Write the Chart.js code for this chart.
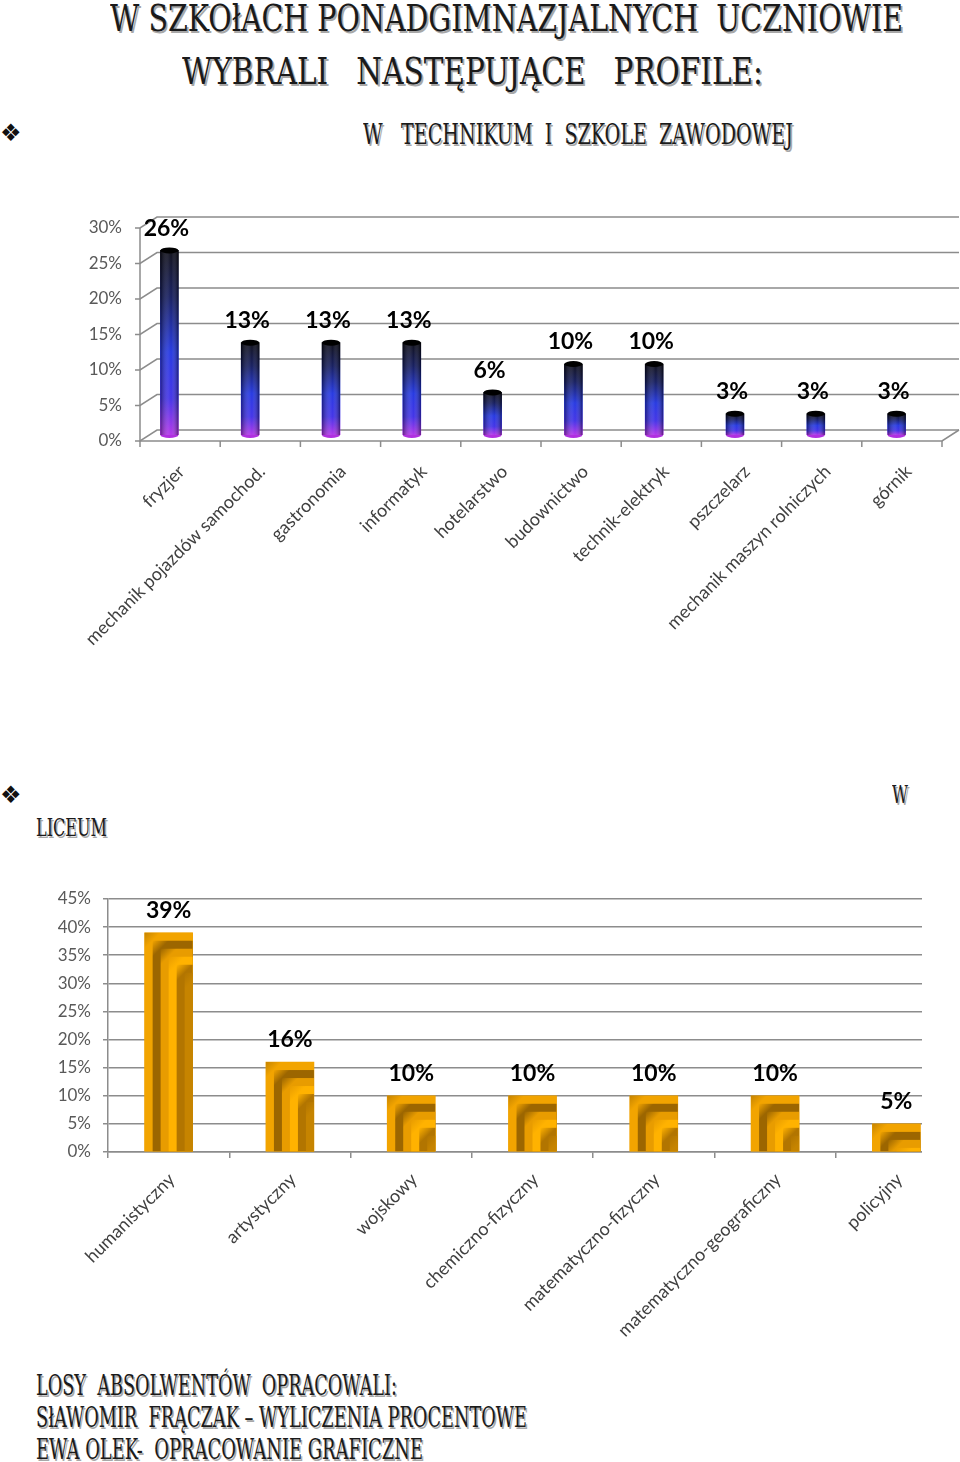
<!DOCTYPE html>
<html>
<head>
<meta charset="utf-8">
<script src="https://cdn.jsdelivr.net/npm/chart.js@4.4.0/dist/chart.umd.min.js"></script>
<style>
    body { margin: 0; width: 960px; height: 1462px; background: #fff; position: relative; overflow: hidden; }
    .t { position: absolute; white-space: pre; line-height: 1; color: #1a1a1a; font-family: "DejaVu Serif Condensed", "DejaVu Serif", serif;
         text-shadow: 2px 2px 0 #a8a8a8; transform-origin: 0 0; }
    .b { position: absolute; font-family: "DejaVu Sans", sans-serif; font-size: 24px; line-height: 1; color: #111; }
    canvas { position: absolute; left: 0; }
</style>
</head>
<body>
<div class="t" data-w="793" style="left:110px;top:0px;font-size:37px">W SZKOłACH PONADGIMNAZJALNYCH  UCZNIOWIE</div>
<div class="t" data-w="581" style="left:182px;top:53px;font-size:37px">WYBRALI   NASTĘPUJĄCE   PROFILE:</div>
<div class="b" style="left:0px;top:121px">❖</div>
<div class="t" data-w="430" style="left:363px;top:121px;font-size:27px">W   TECHNIKUM  I  SZKOLE  ZAWODOWEJ</div>

<canvas id="tech" width="960" height="465" style="top:190px;width:960px;height:465px"></canvas>

<div class="b" style="left:0px;top:783px">❖</div>
<div class="t" data-w="16" style="left:892px;top:783px;font-size:24px">W</div>
<div class="t" data-w="71" style="left:36px;top:816px;font-size:24px">LICEUM</div>

<canvas id="lic" width="960" height="482" style="top:870px;width:960px;height:482px"></canvas>

<div class="t" data-w="361" style="left:36px;top:1372px;font-size:27px">LOSY  ABSOLWENTÓW  OPRACOWALI:</div>
<div class="t" data-w="491" style="left:36px;top:1404px;font-size:27px">SłAWOMIR  FRĄCZAK – WYLICZENIA PROCENTOWE</div>
<div class="t" data-w="387" style="left:36px;top:1436px;font-size:27px">EWA OLEK-  OPRACOWANIE GRAFICZNE</div>

<script>
// technikum / szkoła zawodowa
const techCats = ["fryzjer", "mechanik pojazdów samochod.", "gastronomia", "informatyk", "hotelarstwo",
    "budownictwo", "technik-elektryk", "pszczelarz", "mechanik maszyn rolniczych", "górnik"];
const techVals = [26, 13, 13, 13, 6, 10, 10, 3, 3, 3];
const techTicks = [0, 5, 10, 15, 20, 25, 30];

// liceum
const licCats = ["humanistyczny", "artystyczny", "wojskowy", "chemiczno-fizyczny",
    "matematyczno-fizyczny", "matematyczno-geograficzny", "policyjny"];
const licVals = [39, 16, 10, 10, 10, 10, 5];
const licTicks = [0, 5, 10, 15, 20, 25, 30, 35, 40, 45];

// stretch the headings to the widths seen in the original
document.querySelectorAll(".t").forEach(el => {
    const w = el.getBoundingClientRect().width;
    el.style.transform = `scaleX(${el.dataset.w / w})`;
});

const gridGray = "#8c8c8c";

// percent labels above bars
const valueLabels = {
    id: "valueLabels",
    afterDatasetsDraw(chart, args, opts) {
        const ctx = chart.ctx;
        const meta = chart.getDatasetMeta(0);
        ctx.save();
        ctx.font = "bold 23px Lato";
        ctx.fillStyle = "#000";
        ctx.textAlign = "center";
        ctx.textBaseline = "middle";
        meta.data.forEach((el, i) => {
            ctx.fillText(chart.data.datasets[0].data[i] + "%", el.x + (opts.dx || 0), el.y - 22);
        });
        ctx.restore();
    }
};

// the original picture is cut off on the right side
const cropRight = {
    id: "cropRight",
    beforeDraw(chart, args, opts) {
        if (!opts.x) return;
        chart.ctx.save();
        chart.ctx.beginPath();
        chart.ctx.rect(0, 0, opts.x, chart.height);
        chart.ctx.clip();
    },
    afterDraw(chart, args, opts) {
        if (opts.x) chart.ctx.restore();
    }
};

// fake 3d walls for the first chart
const wall = {
    id: "wall",
    beforeDatasetsDraw(chart) {
        const { ctx, chartArea: a, scales: { x, y } } = chart;
        const fx = a.left + 11, rx = a.right + 5, dx = 17, fy = 6, by = -5;
        ctx.save();
        ctx.strokeStyle = gridGray;
        ctx.lineWidth = 1.5;
        y.ticks.forEach(t => {
            const p = y.getPixelForValue(t.value);
            ctx.beginPath();
            ctx.moveTo(fx - 5, p + fy);
            ctx.lineTo(fx, p + fy);
            ctx.lineTo(fx + dx, p + by);
            ctx.lineTo(rx + dx, p + by);
            ctx.stroke();
        });
        const p0 = y.getPixelForValue(0), pt = y.getPixelForValue(y.max);
        ctx.beginPath();
        ctx.moveTo(fx, pt + fy);
        ctx.lineTo(fx, p0 + fy);
        ctx.lineTo(rx, p0 + fy);
        ctx.lineTo(rx + dx, p0 + by);
        ctx.stroke();
        const n = x.ticks.length, cw = (rx - fx) / n;
        for (let i = 0; i <= n; i++) {
            ctx.beginPath();
            ctx.moveTo(fx + i * cw, p0 + fy);
            ctx.lineTo(fx + i * cw, p0 + fy + 6);
            ctx.stroke();
        }
        ctx.restore();
    }
};

// cylinder shading on top of the blue bars
const cylinder = {
    id: "cylinder",
    afterDatasetsDraw(chart) {
        const ctx = chart.ctx;
        ctx.save();
        chart.getDatasetMeta(0).data.forEach(el => {
            const l = el.x - el.width / 2, w = el.width;
            const g = ctx.createLinearGradient(l, 0, l + w, 0);
            g.addColorStop(0, "rgba(0,0,0,0.4)");
            g.addColorStop(0.45, "rgba(255,255,255,0.12)");
            g.addColorStop(0.6, "rgba(255,255,255,0.05)");
            g.addColorStop(1, "rgba(0,0,0,0.45)");
            ctx.fillStyle = g;
            ctx.fillRect(l, el.y, w, el.base - el.y);
            ctx.beginPath();
            ctx.ellipse(el.x, el.base, w / 2, 3, 0, 0, Math.PI);
            ctx.fillStyle = "#b030e0";
            ctx.fill();
            ctx.beginPath();
            ctx.ellipse(el.x, el.y, w / 2, 3, 0, 0, 2 * Math.PI);
            ctx.fillStyle = "#000";
            ctx.fill();
        });
        ctx.restore();
    }
};

// nested gold L bands for the liceum bars
const goldTexture = {
    id: "goldTexture",
    afterDatasetsDraw(chart) {
        const ctx = chart.ctx;
        const cols = ["#c68400", "#f2a400", "#9c6600", "#e89c00", "#ffb200", "#b27500"];
        ctx.save();
        chart.getDatasetMeta(0).data.forEach(el => {
            const l = el.x - el.width / 2, w = el.width, top = el.y, h = el.base - el.y;
            const s = 8;
            for (let k = 0; k < 6; k++) {
                const rw = w - k * s, rh = h - k * s;
                if (rw <= 0 || rh <= 0) break;
                const g = ctx.createLinearGradient(l + k * s, top + k * s, l + k * s + s, top + k * s + s);
                g.addColorStop(0, cols[k]);
                g.addColorStop(1, cols[(k + 1) % cols.length]);
                ctx.fillStyle = g;
                ctx.fillRect(l + k * s, top + k * s, rw, rh);
            }
        });
        ctx.restore();
    }
};

Chart.defaults.font.family = "Lato";

new Chart(document.getElementById("tech"), {
    type: "bar",
    data: {
        labels: techCats,
        datasets: [{
            data: techVals,
            barThickness: 18,
            backgroundColor: (c) => {
                const ch = c.chart, y = ch.scales.y;
                if (!ch.chartArea || !y) return "#2030c0";
                const top = y.getPixelForValue(c.raw), base = y.getPixelForValue(0);
                const g = ch.ctx.createLinearGradient(0, top, 0, base);
                g.addColorStop(0, "#05050f");
                g.addColorStop(0.25, "#0c1458");
                g.addColorStop(0.55, "#1c30e0");
                g.addColorStop(0.8, "#3a2ae6");
                g.addColorStop(1, "#b02ee8");
                return g;
            },
        }],
    },
    options: {
        responsive: false,
        animation: false,
        layout: { padding: { top: 32, right: 23, left: 0, bottom: 0 } },
        plugins: {
            legend: { display: false },
            tooltip: { enabled: false },
            valueLabels: { dx: -3 },
        },
        scales: {
            x: {
                grid: { display: false, drawTicks: false },
                border: { display: false },
                ticks: {
                    maxRotation: 45, minRotation: 45, autoSkip: false,
                    labelOffset: 12, padding: 26,
                    color: "#404040", font: { size: 18 },
                },
                afterFit: (s) => { s.height = 220; },
            },
            y: {
                min: 0,
                max: 30,
                grid: { display: false, drawTicks: false },
                border: { display: false },
                afterBuildTicks: (s) => { s.ticks = techTicks.map(v => ({ value: v })); },
                ticks: {
                    callback: (v) => v + "%",
                    padding: 7, labelOffset: 6,
                    color: "#595959", font: { size: 17 },
                },
                afterFit: (s) => { s.width = 129; },
            },
        },
    },
    plugins: [wall, cylinder, valueLabels],
});

new Chart(document.getElementById("lic"), {
    type: "bar",
    data: {
        labels: licCats,
        datasets: [{
            data: licVals,
            barThickness: 48,
            backgroundColor: "#f0a000",
        }],
    },
    options: {
        responsive: false,
        animation: false,
        layout: { padding: { top: 29, right: 3, left: 0, bottom: 0 } },
        plugins: {
            legend: { display: false },
            tooltip: { enabled: false },
            valueLabels: { dx: 0 },
            cropRight: { x: 922 },
        },
        scales: {
            x: {
                grid: { display: true, drawOnChartArea: false, drawTicks: true, tickLength: 6, color: gridGray, lineWidth: 1.5, offset: true },
                border: { display: true, color: gridGray, width: 1.5 },
                ticks: {
                    maxRotation: 45, minRotation: 45, autoSkip: false,
                    labelOffset: 3, padding: 11,
                    color: "#404040", font: { size: 18 },
                },
                afterFit: (s) => { s.height = 200; },
            },
            y: {
                min: 0,
                max: 45,
                grid: { color: gridGray, lineWidth: 1.5, tickLength: 5 },
                border: { color: gridGray, width: 1.5 },
                afterBuildTicks: (s) => { s.ticks = licTicks.map(v => ({ value: v })); },
                ticks: {
                    callback: (v) => v + "%",
                    padding: 12,
                    color: "#595959", font: { size: 17 },
                },
                afterFit: (s) => { s.width = 108; },
            },
        },
    },
    plugins: [cropRight, goldTexture, valueLabels],
});
</script>
</body>
</html>
